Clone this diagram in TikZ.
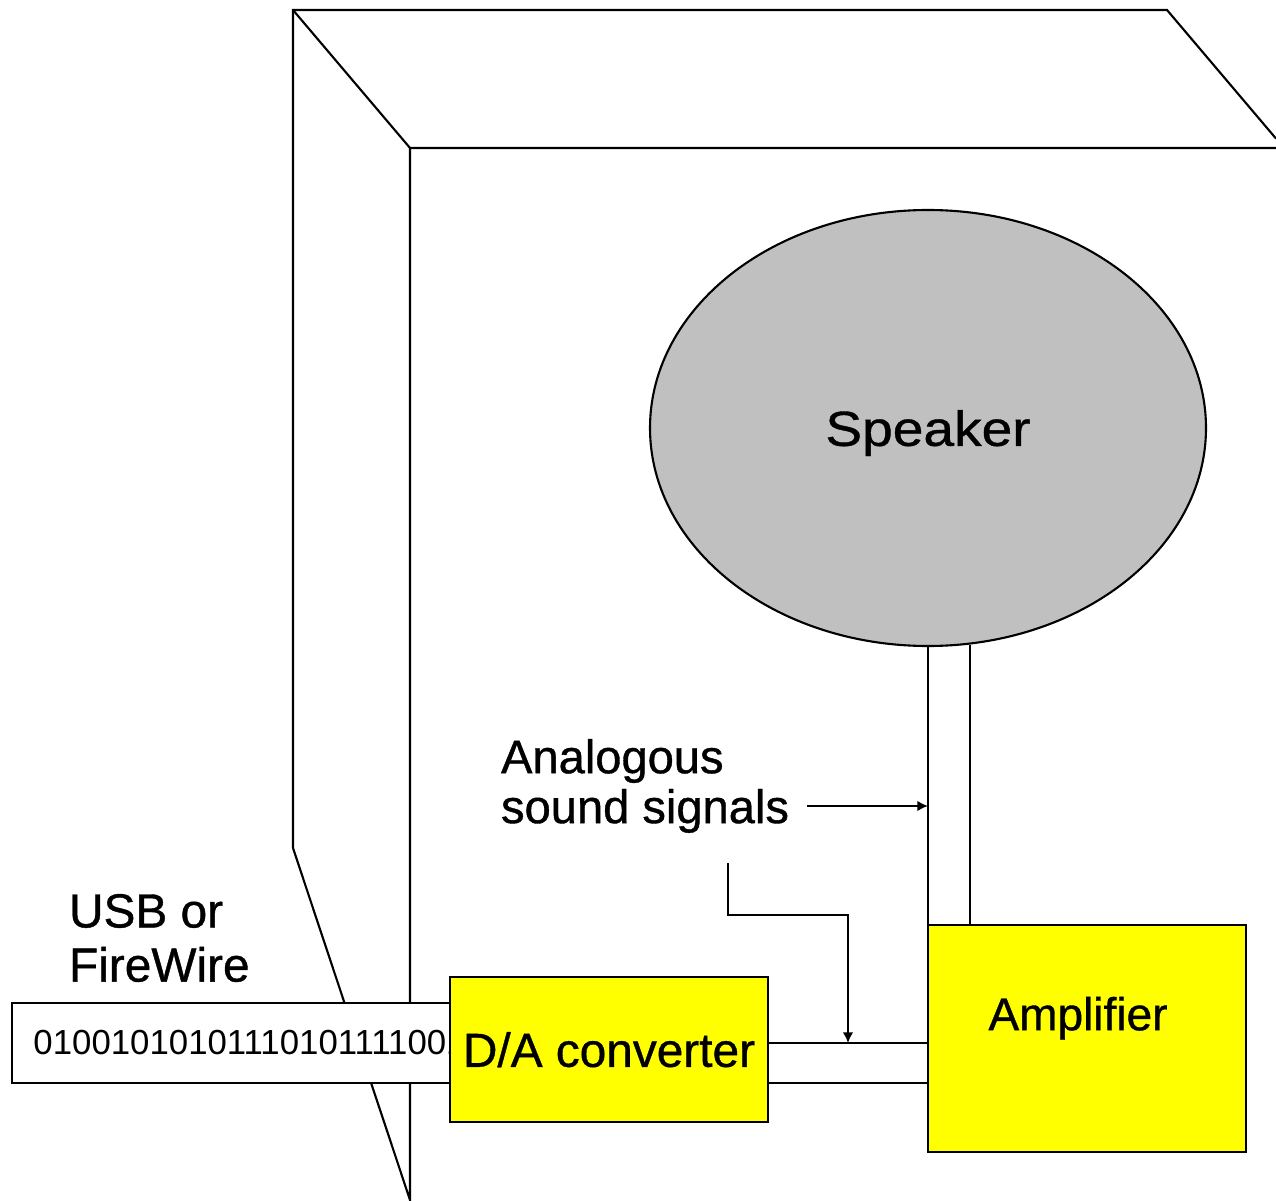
\documentclass[tikz,border=0pt]{standalone}
\usepackage{fontspec}
\setmainfont{Liberation Sans}[FakeBold=0.8]
\newfontfamily\widesans{Liberation Sans}[FakeStretch=1.12, FakeBold=0.8]
\newfontfamily\bitfont{Liberation Sans}
\usepackage{xcolor}
\usepackage{tikz}
\usetikzlibrary{positioning}
\usetikzlibrary{arrows, arrows.meta}
\usetikzlibrary{shapes.geometric}
\definecolor{boxyellow}{RGB}{255,255,0}
\definecolor{conegrey}{RGB}{192,192,192}

\begin{document}
\begin{tikzpicture}[
  line width=0.6pt,
  block/.style={draw, fill=boxyellow, inner sep=0pt},
  tag/.style={inner sep=0pt, align=left, font=\fontsize{13.4}{14.2}\selectfont},
  sig/.style={-{Latex[length=3pt,width=3pt]}}
]
  \useasboundingbox (0,0) rectangle (12.76,12);

  % cabinet corners
  \coordinate (K1) at (2.93,11.90);
  \coordinate (K2) at (11.67,11.90);
  \coordinate (K3) at (4.10,10.52);
  \coordinate (K4) at (2.93,3.52);
  \coordinate (K5) at (4.10,0);

  \draw (K4) -- (K1) -- (K2) -- ++(1.09,-1.286);
  \draw (K1) -- (K3);
  \draw (12.76,10.52) -- (K3) -- (K5) -- (K4);

  % cable going in
  \node[draw, fill=white, minimum width=4.38cm, minimum height=0.80cm, inner sep=0pt] (cable) at (2.31,1.57) {};
  \node[anchor=west, inner sep=0pt, font=\bitfont\fontsize{9.9}{11}\selectfont] (bits) at ([xshift=0.215cm]cable.west) {01001010101110101111001};

  % boxes
  \node[block, minimum width=3.18cm, minimum height=1.45cm, text depth=0pt, font=\fontsize{13.6}{16}\selectfont] (dac) at (6.09,1.505) {D/A converter};
  \node[block, minimum width=3.18cm, minimum height=2.27cm] (amp) at (10.87,1.615) {};
  \node[text depth=0pt, inner sep=0pt, font=\fontsize{13.1}{16}\selectfont] (amptext) at (10.78,1.865) {Amplifier};

  \draw (dac.east |- 0,1.57) -- (amp.west |- 0,1.57);
  \draw (dac.east |- 0,1.17) -- (amp.west |- 0,1.17);

  % speaker
  \node[ellipse, draw, fill=conegrey, minimum width=5.56cm, minimum height=4.36cm, inner sep=0pt, text depth=0pt, font=\widesans\fontsize{14}{16}\selectfont] (speaker) at (9.28,7.72) {Speaker};
  \draw (speaker.south) -- (speaker.south |- amp.north);
  \draw (speaker.-79.5) -- (speaker.-79.5 |- amp.north);

  % labels
  \node[tag, anchor=north west] (sigtext) at (5.00,4.62) {Analogous\\sound signals};
  \coordinate (sigfrom) at (8.07,3.94);
  \draw[sig] (sigfrom) -- (sigfrom -| speaker.south);
  \coordinate (sigbend) at (7.28,3.37);
  \coordinate (sigtap) at (8.48,1.57);
  \draw[sig] (sigbend) -- ++(0,-0.52) -| (sigtap);

  \node[tag, anchor=north west, font=\fontsize{13.6}{15.4}\selectfont] (usb) at (0.68,3.07) {USB or\\FireWire};
\end{tikzpicture}
\end{document}
